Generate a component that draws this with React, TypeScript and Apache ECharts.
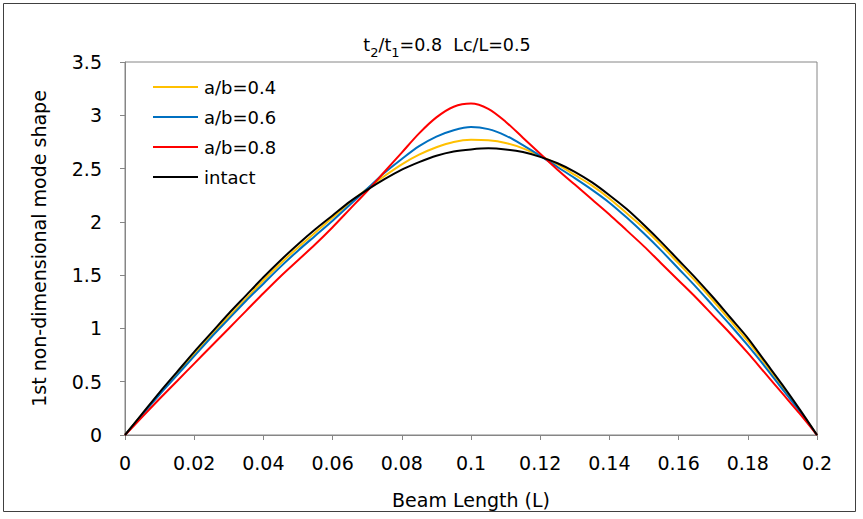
import React, { useEffect, useRef } from "react";
import * as echarts from "echarts";

const xValues = [0, 0.005, 0.01, 0.015, 0.02, 0.025, 0.03, 0.035, 0.04, 0.045, 0.05, 0.055, 0.06, 0.065, 0.07, 0.075, 0.08, 0.085, 0.09, 0.095, 0.1, 0.105, 0.11, 0.115, 0.12, 0.125, 0.13, 0.135, 0.14, 0.145, 0.15, 0.155, 0.16, 0.165, 0.17, 0.175, 0.18, 0.185, 0.19, 0.195, 0.2];

const ab04 = [0, 0.195, 0.39, 0.575, 0.76, 0.94, 1.11, 1.28, 1.45, 1.61, 1.76, 1.9, 2.04, 2.18, 2.31, 2.43, 2.54, 2.63, 2.7, 2.75, 2.77, 2.765, 2.74, 2.69, 2.62, 2.54, 2.44, 2.34, 2.22, 2.08, 1.94, 1.78, 1.61, 1.44, 1.26, 1.07, 0.88, 0.67, 0.45, 0.23, 0];
const ab06 = [0, 0.19, 0.38, 0.56, 0.74, 0.92, 1.09, 1.26, 1.42, 1.58, 1.73, 1.87, 2.01, 2.16, 2.31, 2.46, 2.59, 2.71, 2.8, 2.86, 2.89, 2.87, 2.81, 2.72, 2.62, 2.515, 2.41, 2.3, 2.18, 2.04, 1.89, 1.73, 1.56, 1.39, 1.21, 1.03, 0.84, 0.64, 0.43, 0.22, 0];
const ab08 = [0, 0.17, 0.34, 0.505, 0.67, 0.835, 1.0, 1.165, 1.33, 1.49, 1.64, 1.79, 1.95, 2.12, 2.29, 2.47, 2.65, 2.83, 2.98, 3.08, 3.11, 3.06, 2.94, 2.79, 2.64, 2.49, 2.35, 2.21, 2.07, 1.92, 1.77, 1.61, 1.45, 1.29, 1.12, 0.95, 0.77, 0.58, 0.39, 0.2, 0];
const intact = [0, 0.2, 0.4, 0.59, 0.78, 0.96, 1.14, 1.31, 1.48, 1.64, 1.79, 1.93, 2.06, 2.19, 2.3, 2.4, 2.49, 2.56, 2.62, 2.66, 2.68, 2.69, 2.68, 2.655, 2.61, 2.55, 2.47, 2.37, 2.25, 2.12, 1.97, 1.81, 1.64, 1.47, 1.29, 1.1, 0.91, 0.69, 0.47, 0.24, 0];

const seriesNames = ["a/b=0.4", "a/b=0.6", "a/b=0.8", "intact"];
const seriesColors = ["#FFC000", "#0070C0", "#FF0000", "#000000"];
const seriesValues = [ab04, ab06, ab08, intact];

const FONT = "DejaVu Sans, Verdana, sans-serif";

export default function App() {
  const ref = useRef<HTMLDivElement>(null);
  useEffect(() => {
    if (!ref.current) return;
    const chart = echarts.init(ref.current, null, { renderer: "svg" });
    chart.setOption({
      animation: false,
      backgroundColor: "#ffffff",
      textStyle: { fontFamily: FONT },
      title: {
        text: "{n|t}{s|2}{n|/t}{s|1}{n|=0.8  Lc/L=0.5}",
        left: 442,
        top: 27,
        textAlign: "center",
        textStyle: {
          fontWeight: "normal",
          rich: {
            n: { fontSize: 17.5, fontWeight: "normal", color: "#000", fontFamily: FONT, lineHeight: 22, verticalAlign: "bottom" },
            s: { fontSize: 13, fontWeight: "normal", color: "#000", fontFamily: FONT, lineHeight: 22, verticalAlign: "bottom", padding: [0, 0, -5, 0] },
          },
        },
      },
      graphic: [
        {
          type: "rect",
          shape: { x: 3.5, y: 3.5, width: 852, height: 508 },
          style: { fill: "none", stroke: "#404040", lineWidth: 1 },
          silent: true,
        },
      ],
      legend: {
        left: 148,
        top: 73,
        orient: "vertical",
        icon: "rect",
        itemWidth: 45,
        itemHeight: 2,
        itemGap: 12,
        data: seriesNames,
        textStyle: { fontSize: 18, color: "#000", fontFamily: FONT, lineHeight: 18, padding: [0, 0, 0, 1] },
      },
      grid: {
        left: 125,
        right: 46,
        top: 62,
        bottom: 84,
        show: true,
        borderColor: "#868686",
        borderWidth: 1,
        backgroundColor: "transparent",
      },
      xAxis: {
        type: "value",
        min: 0,
        max: 0.2,
        interval: 0.02,
        name: "Beam Length (L)",
        nameLocation: "middle",
        nameGap: 55,
        nameTextStyle: { fontSize: 19, color: "#000", fontFamily: FONT },
        axisLine: { show: true, lineStyle: { color: "#868686", width: 1 } },
        axisTick: { show: true, length: 5, inside: false, lineStyle: { color: "#868686" } },
        axisLabel: {
          fontSize: 19,
          color: "#000",
          margin: 18,
          formatter: (v: number) => String(Number(v.toFixed(2))),
        },
        splitLine: { show: false },
      },
      yAxis: {
        type: "value",
        min: 0,
        max: 3.5,
        interval: 0.5,
        name: "1st non-dimensional mode shape",
        nameLocation: "middle",
        nameGap: 77,
        nameTextStyle: { fontSize: 19, color: "#000", fontFamily: FONT },
        axisLine: { show: true, lineStyle: { color: "#868686", width: 1 } },
        axisTick: { show: true, length: 5, inside: false, lineStyle: { color: "#868686" } },
        axisLabel: {
          fontSize: 19,
          color: "#000",
          margin: 23,
          formatter: (v: number) => String(Number(v.toFixed(1))),
        },
        splitLine: { show: false },
      },
      series: seriesValues.map((vals, i) => ({
        name: seriesNames[i],
        type: "line",
        data: xValues.map((x, j) => [x, vals[j]]),
        smooth: 0.3,
        showSymbol: false,
        symbol: "none",
        lineStyle: { color: seriesColors[i], width: 2 },
        itemStyle: { color: seriesColors[i] },
      })),
    });
    return () => chart.dispose();
  }, []);
  return (
    <div
      ref={ref}
      style={{ position: "fixed", left: 0, top: 0, width: 863, height: 519 }}
    />
  );
}
